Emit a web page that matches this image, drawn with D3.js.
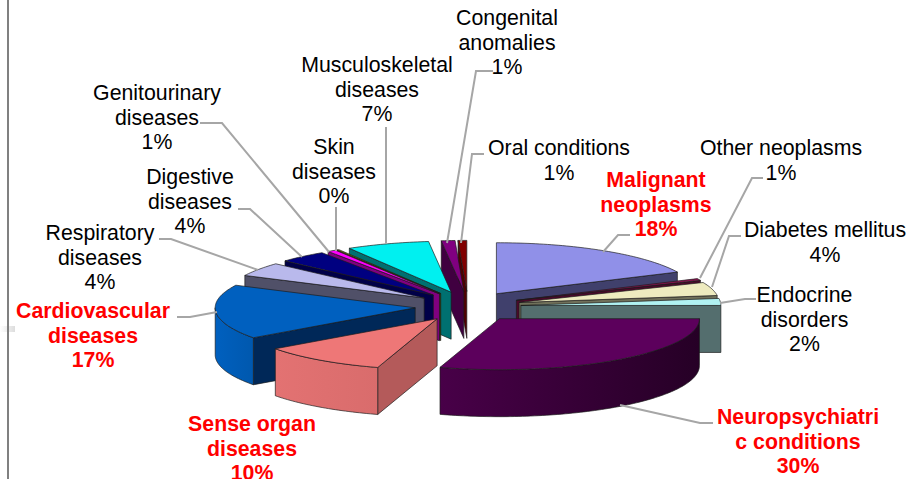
<!DOCTYPE html>
<html>
<head>
<meta charset="utf-8">
<script src="https://d3js.org/d3.v7.min.js"></script>
<style>html,body{margin:0;padding:0;background:#fff;overflow:hidden}</style>
</head>
<body>
<svg id="c" width="913" height="479"></svg>
<script>
const categories = ["Malignant neoplasms","Other neoplasms","Diabetes mellitus","Endocrine disorders","Neuropsychiatric conditions","Sense organ diseases","Cardiovascular diseases","Respiratory diseases","Digestive diseases","Genitourinary diseases","Skin diseases","Musculoskeletal diseases","Congenital anomalies","Oral conditions"];
const values = [18.0,0.6,4.2,2.2,29.8,10.2,17.3,4.4,3.9,0.7,0.2,6.7,1.1,0.7];
const percentLabels = ["18%","1%","4%","2%","30%","10%","17%","4%","4%","1%","0%","7%","1%","1%"];
const labelLines = [["Malignant","neoplasms"],["Other neoplasms"],["Diabetes mellitus"],["Endocrine","disorders"],["Neuropsychiatri","c conditions"],["Sense organ","diseases"],["Cardiovascular","diseases"],["Respiratory","diseases"],["Digestive","diseases"],["Genitourinary","diseases"],["Skin","diseases"],["Musculoskeletal","diseases"],["Congenital","anomalies"],["Oral conditions"]];
const highlighted = ["Malignant neoplasms","Neuropsychiatric conditions","Sense organ diseases","Cardiovascular diseases"];

// layout & style (not data)
const labelPos = [[656,187],[781,155],[825,237],[804.5,302],[798,424],[252,431],[93,318],[100,240],[190,184],[157,100],[334,154],[377,72],[507,25],[559,155]];
const leaders = [
 [[630,235],[618,235],[603,252]],
 [[763,178],[752,178],[700,278]],
 [[741,236],[729,236],[712,287]],
 [[756,299],[745,299],[720,303]],
 [[713,423],[700,423],[620,405]],
 null,
 [[177,317],[190,317],[217,312]],
 [[159,239],[171,239],[258,270]],
 [[238,209],[250,209],[302,257]],
 [[200,123],[222,123],[329,252]],
 [[336,207],[336,251]],
 [[386,127],[386,244]],
 [[493,71],[476,71],[447,243]],
 [[484,154],[472,154],[461,243]]
];
const topColors  = ["#9090E8","#8A1450","#EEEBBF","#B0F2F2","#5C005C","#EE7777","#0060BF","#B9B9EC","#000080","#FF00FF","#808000","#00F0F0","#800080","#800000"];
const wallColors = ["#40406C","#4A0A2A","#70705A","#546E6E","#3A003A","#B45A5A","#002858","#505068","#000048","#800080","#404000","#007070","#400040","#500000"];
const rimLeft    = ["#000","#000","#000","#000","#480048","#E37272","#0060BF","#000","#000","#000","#000","#000","#000","#000"];
const rimRight   = ["#000","#000","#000","#000","#260026","#D96C6C","#0058AE","#000","#000","#000","#000","#000","#000","#000"];
const drawOrder = [0,1,2,3,13,12,11,10,9,8,7,6,5,4];

const CX=468, CY=306.5, RX=200, RY=51, DEPTH=47, EXPLODE=53, EXPLODE_TILT=0.285;
const FONT='"Liberation Sans", Arial, sans-serif', FS=21.3;

const svg = d3.select("#c");
const defs = svg.append("defs");

const g0 = defs.append("linearGradient").attr("id","fade");
g0.append("stop").attr("offset",0).attr("stop-color","#fff");
g0.append("stop").attr("offset",1).attr("stop-color","#ddd");
svg.append("rect").attr("x",0).attr("y",326).attr("width",15).attr("height",6).attr("fill","url(#fade)");
svg.append("line").attr("x1",8).attr("x2",8).attr("y1",0).attr("y2",479).attr("stroke","#808080").attr("stroke-width",2);

const pie = d3.pie().sort(null).value(d=>d);
const arcs = pie(values);
const line = d3.line();

function apex(d){
  const m=(d.startAngle+d.endAngle)/2;
  return [CX+EXPLODE*Math.sin(m), CY-EXPLODE*EXPLODE_TILT*Math.cos(m)];
}
function rimPt(c,a,z){ return [c[0]+RX*Math.sin(a), c[1]-RY*Math.cos(a)+z]; }
function sample(a0,a1){ const n=Math.max(2,Math.ceil(Math.abs(a1-a0)/0.02)); return d3.range(n+1).map(i=>a0+(a1-a0)*i/n); }

const stroke={stroke:"#1a1a1a","stroke-width":0.8,"stroke-linejoin":"round","stroke-opacity":0.85};
function add(g,pts,fill){
  const p=g.append("path").attr("d",line(pts)+"Z").attr("fill",fill);
  Object.entries(stroke).forEach(([k,v])=>p.attr(k,v));
}

const pieG=svg.append("g");
drawOrder.forEach(i=>{
  const d=arcs[i], c=apex(d), g=pieG.append("g").attr("class","slice");
  const a0=d.startAngle, a1=d.endAngle;
  if(Math.sin(a0)<-1e-6){
    const r=rimPt(c,a0,0);
    add(g,[c,r,[r[0],r[1]+DEPTH],[c[0],c[1]+DEPTH]],wallColors[i]);
  }
  if(Math.sin(a1)>1e-6){
    const r=rimPt(c,a1,0);
    add(g,[c,r,[r[0],r[1]+DEPTH],[c[0],c[1]+DEPTH]],wallColors[i]);
  }
  const lo=Math.max(a0,Math.PI/2), hi=Math.min(a1,Math.PI*1.5);
  if(hi>lo){
    const gid="rim"+i;
    const gr=defs.append("linearGradient").attr("id",gid);
    gr.append("stop").attr("offset",0).attr("stop-color",rimLeft[i]);
    gr.append("stop").attr("offset",1).attr("stop-color",rimRight[i]);
    const t=sample(lo,hi);
    add(g,t.map(a=>rimPt(c,a,0)).concat(t.slice().reverse().map(a=>rimPt(c,a,DEPTH))),`url(#${gid})`);
  }
  add(g,[c].concat(sample(a0,a1).map(a=>rimPt(c,a,0))),topColors[i]);
});

const lg=svg.append("g").attr("fill","none").attr("stroke","#A6A6A6").attr("stroke-width",2);
leaders.forEach(l=>{ if(l) lg.append("path").attr("d",line(l)); });

const tg=svg.append("g").attr("font-family",FONT).attr("font-size",FS).attr("text-anchor","middle");
categories.forEach((cat,i)=>{
  const hi=highlighted.includes(cat);
  const t=tg.append("text").attr("x",labelPos[i][0]).attr("y",labelPos[i][1])
    .attr("fill",hi?"#FF0000":"#000").attr("font-weight",hi?"bold":"normal");
  labelLines[i].concat([percentLabels[i]]).forEach((s,j)=>{
    t.append("tspan").attr("x",labelPos[i][0]).attr("dy",j?24.5:0).text(s);
  });
});
</script>
</body>
</html>
